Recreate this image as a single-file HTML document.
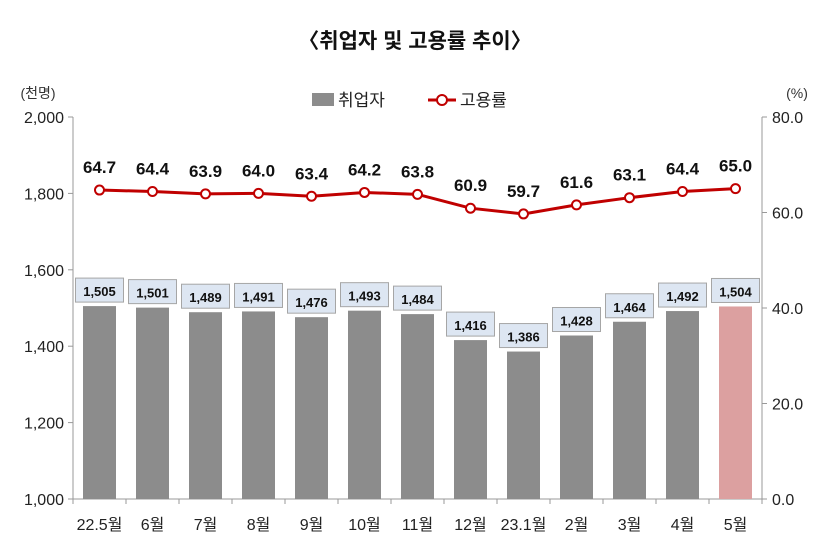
<!DOCTYPE html>
<html><head><meta charset="utf-8"><style>
html,body{margin:0;padding:0;background:#fff}
svg text{font-family:"Liberation Sans","Noto Sans CJK KR",sans-serif}
</style></head><body>
<svg width="830" height="547" viewBox="0 0 830 547" id="chart">
<text x="415" y="48" text-anchor="middle" font-size="21" font-weight="bold" fill="#111">〈취업자 및 고용률 추이〉</text>
<text x="38" y="98" text-anchor="middle" font-size="14" fill="#333">(천명)</text>
<text x="797" y="98" text-anchor="middle" font-size="14" fill="#333">(%)</text>
<g>
<rect x="312" y="93" width="22" height="13" fill="#8c8c8c"/>
<text x="338" y="106" font-size="17" fill="#222">취업자</text>
<line x1="428" y1="100" x2="456" y2="100" stroke="#c00000" stroke-width="3"/>
<circle cx="442" cy="100" r="5" fill="#fff" stroke="#c00000" stroke-width="2"/>
<text x="460" y="106" font-size="17" fill="#222">고용률</text>
</g>
<g id="axes"></g>
<g id="bars"></g>
<g id="line"></g>
</svg>
<script>
const categories=["22.5월","6월","7월","8월","9월","10월","11월","12월","23.1월","2월","3월","4월","5월"];
const employed=[1505,1501,1489,1491,1476,1493,1484,1416,1386,1428,1464,1492,1504];
const rate=[64.7,64.4,63.9,64.0,63.4,64.2,63.8,60.9,59.7,61.6,63.1,64.4,65.0];
const leftTicks=[1000,1200,1400,1600,1800,2000];
const rightTicks=[0,20,40,60,80];
const NS="http://www.w3.org/2000/svg";
const X0=73,X1=762,Y0=499,Y1=117;
const step=(X1-X0)/categories.length;
const xc=i=>X0+step*(i+0.5);
const yL=v=>Y0-(v-1000)/1000*(Y0-Y1);
const yR=v=>Y0-v/80*(Y0-Y1);
function mk(tag,attrs,parent){const e=document.createElementNS(NS,tag);for(const k in attrs)e.setAttribute(k,attrs[k]);parent.appendChild(e);return e;}
const ax=document.getElementById('axes'),bg=document.getElementById('bars'),lg=document.getElementById('line');
let e;
e=mk('line',{x1:X0,y1:Y1,x2:X0,y2:Y0,stroke:'#999'},ax);


e=mk('line',{x1:X1,y1:Y1,x2:X1,y2:Y0,stroke:'#999'},ax);


e=mk('line',{x1:X0,y1:Y0,x2:X1,y2:Y0,stroke:'#999'},ax);


leftTicks.forEach(v=>{
 mk('line',{x1:X0-5,y1:yL(v),x2:X0,y2:yL(v),stroke:'#999'},ax);
 e=mk('text',{x:X0-9,y:yL(v)+6,'text-anchor':'end','font-size':16,fill:'#222'},ax);
 e.textContent=v.toLocaleString('en-US');
 
 
});
rightTicks.forEach(v=>{
 mk('line',{x1:X1,y1:yR(v),x2:X1+5,y2:yR(v),stroke:'#999'},ax);
 e=mk('text',{x:X1+10,y:yR(v)+6,'font-size':16,fill:'#222'},ax);
 e.textContent=v.toFixed(1);
 
 
});
for(let i=0;i<=categories.length;i++){mk('line',{x1:X0+step*i,y1:Y0,x2:X0+step*i,y2:Y0+5,stroke:'#999'},ax);}
categories.forEach((c,i)=>{
 e=mk('text',{x:xc(i),y:Y0+31,'text-anchor':'middle','font-size':16,fill:'#222'},ax);
 e.textContent=c;
 
 
});
const bw=33;
employed.forEach((v,i)=>{
 const last=i===employed.length-1;
 e=mk('rect',{x:xc(i)-bw/2,y:yL(v),width:bw,height:Y0-yL(v),fill:last?'#dca0a0':'#8c8c8c'},bg);
 
 
 e=mk('rect',{x:xc(i)-24,y:yL(v)-28,width:48,height:24,fill:'#dde6f2',stroke:'#a6a6a6'},bg);
 
 
 e=mk('text',{x:xc(i),y:yL(v)-10,'text-anchor':'middle','font-size':13,'font-weight':'bold',fill:'#111'},bg);
 e.textContent=v.toLocaleString('en-US');
 
 
});
e=mk('polyline',{points:rate.map((v,i)=>xc(i)+','+yR(v)).join(' '),fill:'none',stroke:'#c00000','stroke-width':3},lg);


rate.forEach((v,i)=>{
 e=mk('circle',{cx:xc(i),cy:yR(v),r:4.5,fill:'#fff',stroke:'#c00000','stroke-width':2},lg);
 
 
 e=mk('text',{x:xc(i),y:yR(v)-17,'text-anchor':'middle','font-size':17,'font-weight':'bold',fill:'#111'},lg);
 e.textContent=v.toFixed(1);
 
 
});
</script>
</body></html>
